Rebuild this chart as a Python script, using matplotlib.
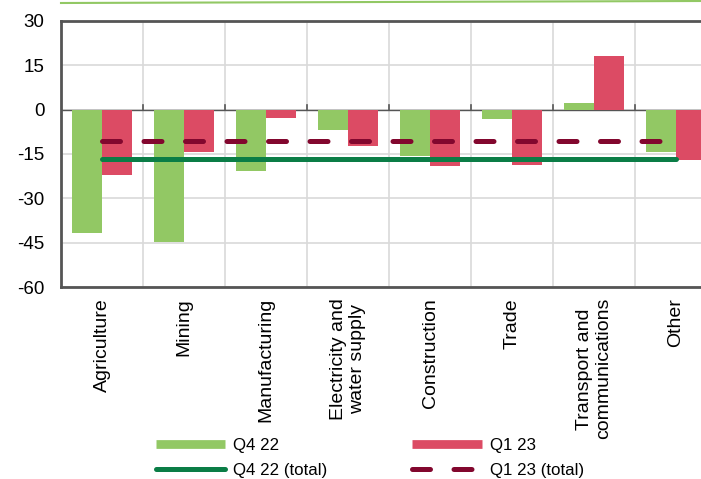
import numpy as np
import matplotlib.pyplot as plt
from matplotlib.lines import Line2D

plt.rcParams["font.family"] = ["Liberation Sans", "DejaVu Sans"]

categories = ["Agriculture", "Mining", "Manufacturing", "Electricity and\nwater supply",
              "Construction", "Trade", "Transport and\ncommunications", "Other"]
q4_22 = [-41.6, -44.9, -20.6, -7.0, -15.7, -3.3, 2.3, -14.2]
q1_23 = [-22.1, -14.4, -2.8, -12.3, -19.2, -18.7, 18.2, -16.9]
q4_22_total = -16.7
q1_23_total = -10.5
yticks = [30, 15, 0, -15, -30, -45, -60]

GREEN = "#92C864"
RED = "#DC4B64"
DGREEN = "#0A7D46"
DRED = "#82072E"

fig = plt.figure(figsize=(7.01, 4.79), dpi=100)
ax = fig.add_axes([61 / 701, 1 - 287 / 479, 656 / 701, 266 / 479])

x = np.arange(len(categories))
w = 0.37
ax.bar(x - w / 2, q4_22, width=w, color=GREEN, zorder=3)
ax.bar(x + w / 2, q1_23, width=w, color=RED, zorder=3)

ax.plot([x[0], x[-1]], [q4_22_total] * 2, color=DGREEN, lw=3.6, solid_capstyle="round", zorder=4)
ax.plot([x[0], x[-1]], [q1_23_total] * 2, color=DRED, lw=3.6,
        linestyle=(0, (3.6, 4.7)), dash_capstyle="round", zorder=4)

ax.set_xlim(-0.5, len(categories) - 0.5)
ax.set_ylim(-60, 30)
ax.set_yticks(yticks)
ax.set_yticklabels([str(t) for t in yticks], fontsize=13.5)
ax.tick_params(axis="y", length=0, pad=12)

# category boundaries as grid lines
for b in np.arange(0.5, len(categories) - 0.5, 1):
    ax.axvline(b, color="#d9d9d9", lw=1.2, zorder=1)
    ax.plot([b, b], [0, 1.5], color="#555555", lw=1.2, zorder=2)
for t in yticks:
    ax.axhline(t, color="#d9d9d9", lw=1.2, zorder=1)
ax.axhline(0, color="#555555", lw=1, zorder=2)

ax.set_xticks(x)
ax.set_xticklabels(categories, rotation=90, fontsize=14, va="top", ha="center",
                   linespacing=1.2)
ax.tick_params(axis="x", length=0, pad=8)

for s in ["left", "bottom", "top"]:
    ax.spines[s].set_color("#555555")
    ax.spines[s].set_linewidth(2)
ax.spines["right"].set_visible(False)

# decorative line at top
fig.add_artist(Line2D([61 / 701, 1.0], [1 - 3 / 479, 1 - 1 / 479], color=GREEN, lw=1.5))

handles = [
    Line2D([], [], color=GREEN, lw=6.3, solid_capstyle="butt"),
    Line2D([], [], color=DGREEN, lw=3.6, solid_capstyle="round"),
    Line2D([], [], color=RED, lw=6.3, solid_capstyle="butt"),
    Line2D([], [], color=DRED, lw=3.6, linestyle=(0, (3.6, 4.7)), dash_capstyle="round"),
]
labels = ["Q4 22", "Q4 22 (total)", "Q1 23", "Q1 23 (total)"]
fig.legend(handles, labels, loc="center", bbox_to_anchor=(370 / 701, 1 - 458 / 479),
           ncol=2, frameon=False, fontsize=12.2, handlelength=4.1, handletextpad=0.5,
           columnspacing=5.0, labelspacing=0.62, borderpad=0)

fig.savefig("out.png", dpi=100)
